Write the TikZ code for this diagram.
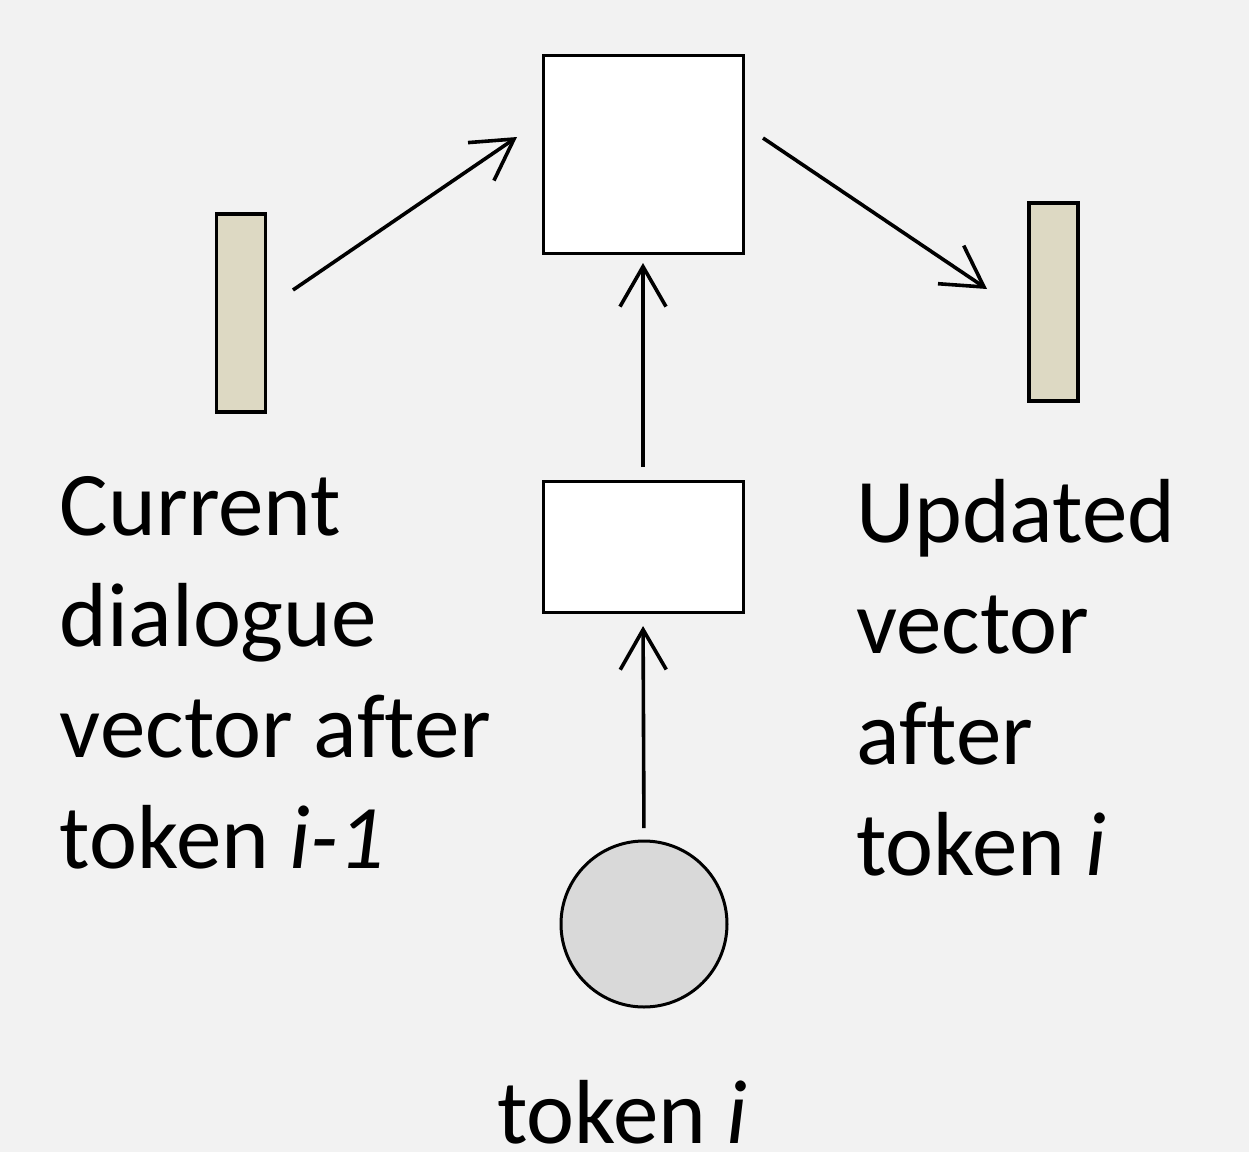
\documentclass[tikz,border=0pt]{standalone}
\usepackage{fontspec}
\setmainfont[Ligatures=NoCommon]{Carlito}
\usetikzlibrary{arrows.meta}
\definecolor{bg}{HTML}{F2F2F2}
\definecolor{barfill}{HTML}{DDD9C3}
\definecolor{tokfill}{HTML}{D9D9D9}
\begin{document}
\begin{tikzpicture}[x=0.5pt,y=-0.5pt,
  box/.style={draw=black,line width=1.5pt,fill=white,inner sep=0pt,outer sep=0pt},
  vecbar/.style={draw=black,line width=1.7pt,fill=barfill,inner sep=0pt,outer sep=0pt,
    minimum width=24.5pt,minimum height=99pt},
  tok/.style={circle,draw=black,line width=1.5pt,fill=tokfill,inner sep=0pt,outer sep=0pt,
    minimum size=83pt},
  flow/.style={line width=1.8pt,-{Straight Barb[length=20pt,width=23pt,line width=1.8pt]}},
  lbl/.style={inner sep=0pt,outer sep=0pt,align=left,anchor=base west,
    font=\fontsize{45.5}{55.5}\selectfont}
]
\fill[bg] (0,0) rectangle (1249,1152);
\useasboundingbox (0,0) rectangle (1249,1152);

% network cells
\node[box,minimum width=100pt,minimum height=99pt] (rnn) at (643,154) {};
\node[box,minimum width=100pt,minimum height=65.5pt] (emb) at (643,546.5) {};
\node[tok] (tok) at (644,924) {};

% dialogue vectors
\node[vecbar] (prev) at (241,313) {};
\node[vecbar] (next) at (1053.5,302) {};

% connector end points
\coordinate (pa) at (293,290);
\coordinate (pb) at (517,137);
\coordinate (na) at (763,138);
\coordinate (nb) at (987,289);

\draw[flow] (pa) -- (pb);
\draw[flow] (na) -- (nb);
\draw[flow,shorten <=7pt,shorten >=5pt] (emb.north) -- (rnn.south);
\draw[flow,shorten <=6.5pt,shorten >=7pt] (tok.north) -- (emb.south);

% labels (anchored at the baseline of the last line)
\node[lbl] (lprev) at (60,868) {Current\\dialogue\\vector after\\token \textit{i-1}};
\node[lbl] (lnext) at (856,875) {Updated\\vector\\after\\token \textit{i}};
\node[lbl] (ltok) at (497,1143) {token \textit{i}};
\end{tikzpicture}
\end{document}
